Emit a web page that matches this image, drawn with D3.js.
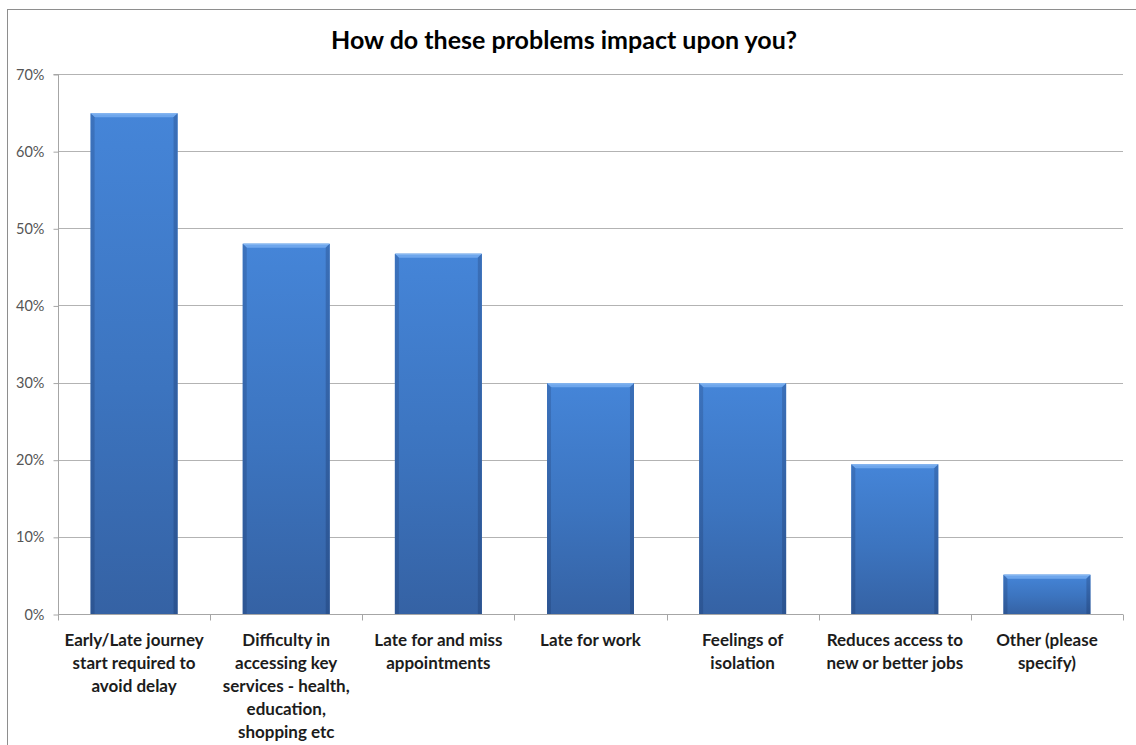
<!DOCTYPE html>
<html>
<head>
<meta charset="utf-8">
<script src="https://cdn.jsdelivr.net/npm/d3@7"></script>
<style>
  html, body { margin: 0; padding: 0; background: #fff; }
  svg { display: block; }
</style>
</head>
<body>
<svg id="chart" width="1136" height="745"></svg>
<script>
// Survey responses: share of respondents reporting each impact
const categories = [
  "Early/Late journey start required to avoid delay",
  "Difficulty in accessing key services - health, education, shopping etc",
  "Late for and miss appointments",
  "Late for work",
  "Feelings of isolation",
  "Reduces access to new or better jobs",
  "Other (please specify)"
];
const categoryLines = [
  ["Early/Late journey", "start required to", "avoid delay"],
  ["Difficulty in", "accessing key", "services - health,", "education,", "shopping etc"],
  ["Late for and miss", "appointments"],
  ["Late for work"],
  ["Feelings of", "isolation"],
  ["Reduces access to", "new or better jobs"],
  ["Other (please", "specify)"]
];
const values = [0.649, 0.480, 0.467, 0.299, 0.299, 0.194, 0.051];
const yTicks = [0, 0.1, 0.2, 0.3, 0.4, 0.5, 0.6, 0.7];
const title = "How do these problems impact upon you?";

const svg = d3.select("#chart");
const font = "Lato, 'Open Sans', sans-serif";

const plot = { left: 58, right: 1123, top: 74, bottom: 614 };

const x = d3.scaleBand()
  .domain(categories)
  .range([plot.left, plot.right])
  .paddingInner(0.75 / 1.75)
  .paddingOuter(0.75 / 1.75 / 2);

const y = d3.scaleLinear().domain([0, 0.7]).range([plot.bottom, plot.top]);

// Outer chart frame
svg.append("rect")
  .attr("x", 7.5).attr("y", 9.5)
  .attr("width", 1140).attr("height", 760)
  .attr("fill", "none").attr("stroke", "#8e8e8e").attr("stroke-width", 1);

// Title
svg.append("text")
  .attr("x", 564).attr("y", 49)
  .attr("text-anchor", "middle")
  .attr("font-family", font).attr("font-weight", 700)
  .attr("font-size", 25).attr("fill", "#000")
  .text(title);

// Horizontal gridlines
svg.append("g")
  .selectAll("line")
  .data(yTicks.filter(t => t > 0))
  .join("line")
  .attr("x1", plot.left).attr("x2", plot.right)
  .attr("y1", d => Math.round(y(d)) + 0.5).attr("y2", d => Math.round(y(d)) + 0.5)
  .attr("stroke", "#b3b3b3").attr("stroke-width", 1);

// Y axis
const yAxis = svg.append("g")
  .attr("transform", `translate(${plot.left + 0.5},0.5)`)
  .call(d3.axisLeft(y).tickValues(yTicks).tickFormat(d3.format(".0%")).tickSize(5).tickPadding(9));
yAxis.select(".domain").attr("stroke", "#a6a6a6").attr("d", `M-5,${y(0.7)}H0V${y(0)}`);
yAxis.selectAll(".tick line").attr("stroke", "#a6a6a6");
yAxis.selectAll(".tick text")
  .attr("font-family", font).attr("font-size", 14.5).attr("fill", "#555");

// Bar gradients
const defs = svg.append("defs");
const grad = defs.append("linearGradient")
  .attr("id", "barFill").attr("x1", 0).attr("y1", 0).attr("x2", 0).attr("y2", 1);
grad.append("stop").attr("offset", "0%").attr("stop-color", "#4585d8");
grad.append("stop").attr("offset", "55%").attr("stop-color", "#3c74bf");
grad.append("stop").attr("offset", "100%").attr("stop-color", "#3562a4");

const side = defs.append("linearGradient")
  .attr("id", "sideFill").attr("x1", 0).attr("y1", 0).attr("x2", 0).attr("y2", 1);
side.append("stop").attr("offset", "0%").attr("stop-color", "#3a6fb8");
side.append("stop").attr("offset", "100%").attr("stop-color", "#2b5390");

// Bars with a bevelled edge
const bevel = 4;
const bars = svg.append("g")
  .selectAll("g")
  .data(categories.map((c, i) => ({ c, v: values[i] })))
  .join("g");

bars.append("rect")
  .attr("x", d => x(d.c)).attr("y", d => y(d.v))
  .attr("width", x.bandwidth()).attr("height", d => y(0) - y(d.v))
  .attr("fill", "url(#barFill)");

// top facet
bars.append("polygon")
  .attr("points", d => {
    const x0 = x(d.c), x1 = x0 + x.bandwidth(), t = y(d.v);
    return [[x0, t], [x1, t], [x1 - bevel, t + bevel], [x0 + bevel, t + bevel]].join(" ");
  })
  .attr("fill", "#6ea6ec");
// left facet
bars.append("polygon")
  .attr("points", d => {
    const x0 = x(d.c), t = y(d.v), b = y(0);
    return [[x0, t], [x0 + bevel, t + bevel], [x0 + bevel, b], [x0, b]].join(" ");
  })
  .attr("fill", "url(#sideFill)").attr("opacity", 0.85);
// right facet
bars.append("polygon")
  .attr("points", d => {
    const x1 = x(d.c) + x.bandwidth(), t = y(d.v), b = y(0);
    return [[x1, t], [x1 - bevel, t + bevel], [x1 - bevel, b], [x1, b]].join(" ");
  })
  .attr("fill", "url(#sideFill)");
// thin highlight line along the top
bars.append("line")
  .attr("x1", d => x(d.c) + 1).attr("x2", d => x(d.c) + x.bandwidth() - 1)
  .attr("y1", d => y(d.v) + 0.5).attr("y2", d => y(d.v) + 0.5)
  .attr("stroke", "#8dbbf2").attr("stroke-width", 1);

// Category axis with ticks between categories
const xAxisG = svg.append("g").attr("transform", `translate(0,${plot.bottom + 0.5})`);
xAxisG.append("line")
  .attr("x1", plot.left).attr("x2", plot.right)
  .attr("stroke", "#a6a6a6");
const edges = [plot.left, ...categories.slice(1).map(c => x(c) - (x.step() - x.bandwidth()) / 2), plot.right];
xAxisG.selectAll("line.tick")
  .data(edges)
  .join("line")
  .attr("class", "tick")
  .attr("x1", d => Math.round(d) + 0.5).attr("x2", d => Math.round(d) + 0.5)
  .attr("y1", 0).attr("y2", 6)
  .attr("stroke", "#a6a6a6");

// Category labels
const labels = svg.append("g")
  .selectAll("text")
  .data(categories.map((c, i) => ({ c, lines: categoryLines[i] })))
  .join("text")
  .attr("text-anchor", "middle")
  .attr("font-family", font).attr("font-weight", 700)
  .attr("font-size", 17).attr("fill", "#1c1c1c")
  .attr("transform", d => `translate(${x(d.c) + x.bandwidth() / 2},646)`);
labels.selectAll("tspan")
  .data(d => d.lines)
  .join("tspan")
  .attr("x", 0).attr("dy", (d, i) => i === 0 ? 0 : 23)
  .text(d => d);
</script>
</body>
</html>
